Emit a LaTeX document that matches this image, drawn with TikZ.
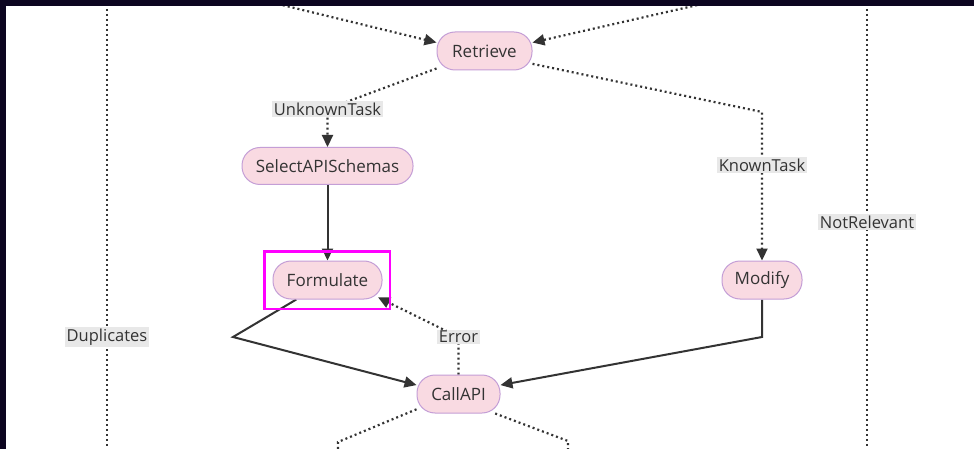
\documentclass[tikz,border=0pt]{standalone}
\usepackage{fontspec}
\setmainfont{Open Sans}
\usetikzlibrary{arrows.meta}
\definecolor{framecol}{RGB}{12,5,32}
\definecolor{nodefill}{RGB}{249,218,226}
\definecolor{nodeborder}{RGB}{196,158,214}
\definecolor{ink}{RGB}{51,51,51}
\definecolor{lblfill}{RGB}{232,232,232}
\definecolor{hlcol}{RGB}{255,0,255}
\pgfdeclarelayer{back}
\pgfdeclarelayer{bg}
\pgfsetlayers{back,bg,main}
\begin{document}
\begin{tikzpicture}[x=1pt,y=-1pt,
  state/.style={draw=nodeborder, fill=nodefill, line width=1pt, rounded corners=18pt,
    minimum height=38pt, inner sep=0pt, text=ink, font=\fontsize{17}{20}\selectfont},
  lbl/.style={fill=lblfill, text=ink, inner sep=1.5pt, font=\fontsize{16.5}{20}\selectfont},
  dotline/.style={draw=ink, line width=2.2pt, dash pattern=on 2pt off 3pt},
  solidline/.style={draw=ink, line width=2pt},
  tipend/.style={-{Triangle[length=12pt,width=11pt]}},
]
\useasboundingbox (0,0) rectangle (974,449);
\begin{pgfonlayer}{back}
\fill[white] (0,0) rectangle (974,449);
\end{pgfonlayer}
\clip (0,0) rectangle (974,449);

% nodes
\node[state, minimum width=95pt] (ret) at (484.5,51) {Retrieve};
\node[state, minimum width=171pt, minimum height=37pt] (sel) at (327.5,166) {SelectAPISchemas};
\node[state, minimum width=109pt] (form) at (327.5,280) {Formulate};
\node[state, minimum width=80pt] (mod) at (762,280) {Modify};
\node[state, minimum width=83pt] (call) at (458.5,394) {CallAPI};

% highlight box
\node[draw=hlcol, line width=2.5pt, minimum width=125.5pt, minimum height=57.5pt, inner sep=0pt] (hl) at (327,280) {};

% labels
\node[lbl] (ut) at (327.5,109) {UnknownTask};
\node[lbl] (kt) at (762,165) {KnownTask};
\node[lbl] (nr) at (867,222) {NotRelevant};
\node[lbl] (dup) at (107,337) {Duplicates};
\node[lbl] (err) at (458.5,337) {Error};

% free ends and bends
\coordinate (tl) at (278,4);
\coordinate (tr) at (702,4);
\coordinate (kc) at (762,112);
\coordinate (fc) at (233,337);
\coordinate (mc) at (762,337);
\coordinate (lc) at (338,442);
\coordinate (lb) at (338,455);
\coordinate (rc) at (568,441);
\coordinate (rb) at (568,455);
\coordinate (dtop) at (107,4);
\coordinate (dbot) at (107,455);
\coordinate (ntop) at (867,4);
\coordinate (nbot) at (867,455);

\begin{pgfonlayer}{bg}
\draw[dotline, tipend] (tl) -- (ret.170);
\draw[dotline, tipend] (tr) -- (ret.10);
\draw[dotline, tipend] (ret.200) -- (ut.center) -- (sel.north);
\draw[dotline, tipend] (ret.345) -- (kc) -- (mod.north);
\draw[solidline, tipend] (sel.south) -- (form.north);
\draw[solidline, tipend] (form.212) -- (fc) -- (call.168);
\draw[solidline, tipend] (mod.south) -- (mc) -- (call.12);
\draw[dotline, tipend, shorten >=-5pt] (call.north) -- (err.center) -- (form.south east);
\draw[dotline] (call.200) -- (lc) -- (lb);
\draw[dotline] (call.-28) -- (rc) -- (rb);
\draw[dotline] (dtop) -- (dup.center) -- (dbot);
\draw[dotline] (ntop) -- (nr.center) -- (nbot);
\end{pgfonlayer}

% dark frame
\fill[framecol] (0,0) rectangle (974,6);
\fill[framecol] (0,0) rectangle (6,449);
\end{tikzpicture}
\end{document}
